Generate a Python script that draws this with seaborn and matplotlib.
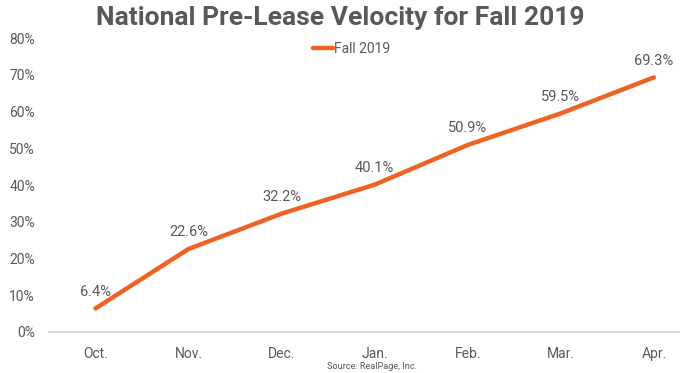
import matplotlib
matplotlib.use("Agg")
import matplotlib.pyplot as plt
import seaborn as sns
import pandas as pd

months = ["Oct.", "Nov.", "Dec.", "Jan.", "Feb.", "Mar.", "Apr."]
values = [6.4, 22.6, 32.2, 40.1, 50.9, 59.5, 69.3]
series_name = "Fall 2019"
yticks = [0, 10, 20, 30, 40, 50, 60, 70, 80]

sns.set_theme(style="white")
plt.rcParams["font.family"] = ["Roboto", "DejaVu Sans"]

GRAY = "#595959"
ORANGE = "#EF6222"

df = pd.DataFrame({"month": months, "value": values, "series": series_name})
df["x"] = range(len(months))

fig = plt.figure(figsize=(6.8, 3.73), dpi=100)
ax = fig.add_axes([0.072, 0.110, 0.928, 0.788])

sns.lineplot(data=df, x="x", y="value", hue="series", palette=[ORANGE],
             linewidth=3.2, ax=ax, legend=True)

for xi, v in zip(df["x"], values):
    ax.annotate(f"{v:.1f}%", (xi, v), xytext=(0, 7), textcoords="offset points",
                ha="center", va="bottom", fontsize=10.5, color=GRAY)

ax.set_xlim(-0.5, 6.28)
ax.set_ylim(0, 80)
ax.set_xticks(df["x"])
ax.set_xticklabels(months)
ax.set_yticks(yticks)
ax.set_yticklabels([f"{t}%" for t in yticks])
ax.tick_params(axis="both", length=0, labelsize=10, colors=GRAY)
ax.tick_params(axis="x", pad=11)
ax.tick_params(axis="y", pad=10)
ax.set_xlabel("")
ax.set_ylabel("")
for s in ["top", "right", "left"]:
    ax.spines[s].set_visible(False)
ax.spines["bottom"].set_color("#D9D9D9")
ax.spines["bottom"].set_linewidth(1.5)

leg = ax.legend(loc="upper center", bbox_to_anchor=(0.48, 1.03), frameon=False,
                fontsize=10, handlelength=1.4, handletextpad=0.1)
for t in leg.get_texts():
    t.set_color(GRAY)

fig.text(0.5, 0.952, "National Pre-Lease Velocity for Fall 2019", ha="center",
         va="center", fontsize=19, fontweight="bold", color=GRAY)
fig.text(0.547, 0.018, "Source: RealPage, Inc.", ha="center", va="center",
         fontsize=6.6, color=GRAY)

fig.savefig("out.png", dpi=100)
